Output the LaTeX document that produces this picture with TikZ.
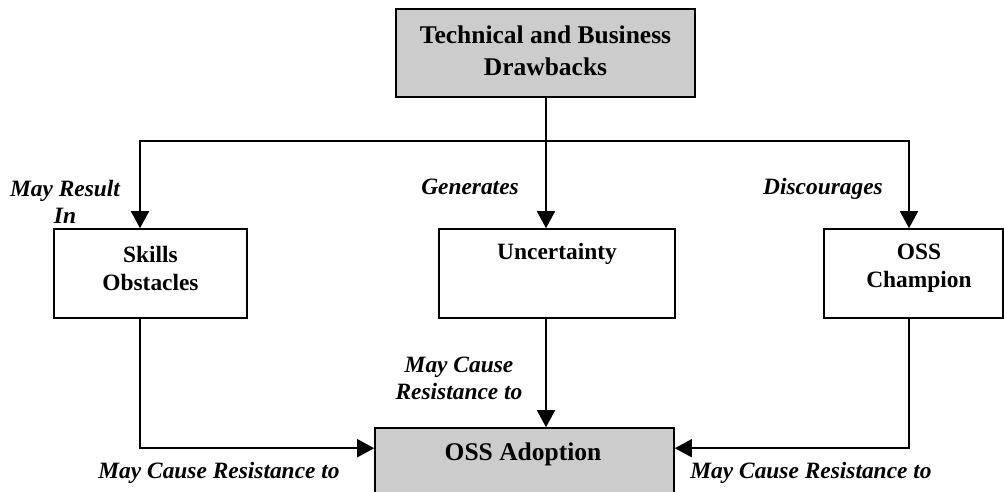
\documentclass[tikz,border=0pt]{standalone}
\usepackage{fontspec}
\setmainfont{Liberation Serif}
\usetikzlibrary{arrows.meta}
\definecolor{boxgray}{RGB}{204,204,204}
\tikzset{
  box/.style={draw=black, line width=1.6pt, fill=white, inner sep=0pt},
  keybox/.style={box, fill=boxgray},
  boxtext/.style={inner sep=0pt, align=center, font=\bfseries\fontsize{23.4}{28}\selectfont},
  bigtext/.style={inner sep=0pt, align=center, font=\bfseries\fontsize{25.5}{32}\selectfont},
  rel/.style={inner sep=0pt, align=center, font=\bfseries\itshape\fontsize{23.4}{27}\selectfont},
  link/.style={draw=black, line width=1.6pt, -{Triangle[width=18pt,length=17pt]}},
  wire/.style={draw=black, line width=1.6pt}
}
\begin{document}
\begin{tikzpicture}[x=1pt, y=-1pt]
\clip (0,0) rectangle (1004,491);
\fill[white] (0,0) rectangle (1004,491);

% boxes
\node[keybox, minimum width=299pt, minimum height=88pt] (top) at (545.5,53) {};
\node[bigtext] (toptxt) at (545.5,51) {Technical and Business\\Drawbacks};

\node[box, minimum width=193pt, minimum height=89pt] (skills) at (150.5,273.5) {};
\node[boxtext] (skillstxt) at (150.5,268) {Skills\\Obstacles};

\node[box, minimum width=236pt, minimum height=89pt] (unc) at (557,273.5) {};
\node[boxtext] (unctxt) at (557,254) {Uncertainty};

\node[box, minimum width=179pt, minimum height=89pt] (champ) at (913.5,273.5) {};
\node[boxtext] (champtxt) at (919,268) {OSS\\Champion};

\node[keybox, minimum width=299pt, minimum height=120pt] (adopt) at (524.5,488) {};
\node[bigtext] (adopttxt) at (523,454) {OSS Adoption};

% branching connectors from the top box
\coordinate (hub) at (546,141);
\draw[wire] (top.south -| hub) -- (hub);
\draw[link] (hub) -| ([xshift=-10.5pt]skills.north);
\draw[link] (hub) -- ([xshift=-11pt]unc.north);
\draw[link] (hub) -| ([xshift=-4.5pt]champ.north);

% connectors into the adoption box
\draw[link] ([xshift=-10.5pt]skills.south) |- ([yshift=-21pt]adopt.north west);
\draw[link] ([xshift=-11pt]unc.south) -- ([xshift=21.5pt]adopt.north);
\draw[link] ([xshift=-4.5pt]champ.south) |- ([yshift=-21pt]adopt.north east);

% relation labels
\node[rel] (l1) at (65,201.5) {May Result\\In};
\node[rel] (l2) at (470,187) {Generates};
\node[rel] (l3) at (823,188.5) {Discourages};
\node[rel] (l4) at (459,378) {May Cause\\Resistance to};
\node[rel] (l5) at (219,473) {May Cause Resistance to};
\node[rel] (l6) at (811,473) {May Cause Resistance to};
\end{tikzpicture}
\end{document}
